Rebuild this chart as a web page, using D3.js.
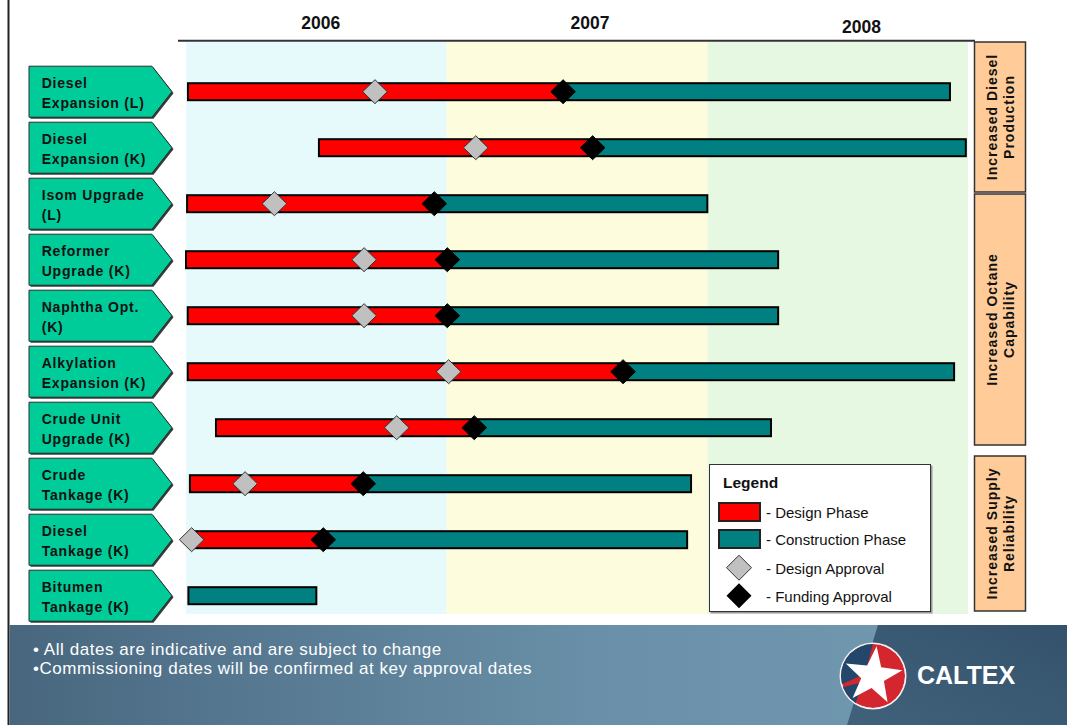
<!DOCTYPE html>
<html>
<head>
<meta charset="utf-8">
<script src="https://cdn.jsdelivr.net/npm/d3@7/dist/d3.min.js"></script>
<style>
  html, body { margin: 0; padding: 0; background: #ffffff; }
  svg { display: block; font-family: "Liberation Sans", Arial, sans-serif; }
</style>
</head>
<body>
<svg id="chart" width="1067" height="725"></svg>
<script>
// ---- Project schedule (months counted from January 2006) ----
const projects = [
  ["Diesel", "Expansion (L)"],
  ["Diesel", "Expansion (K)"],
  ["Isom Upgrade", "(L)"],
  ["Reformer", "Upgrade (K)"],
  ["Naphtha Opt.", "(K)"],
  ["Alkylation", "Expansion (K)"],
  ["Crude Unit", "Upgrade (K)"],
  ["Crude", "Tankage (K)"],
  ["Diesel", "Tankage (K)"],
  ["Bitumen", "Tankage (K)"]
];
const projectStart    = [0.09, 6.12, 0.05, 0.0, 0.08, 0.08, 1.38, 0.18, 0.23, 0.11];
const designApproval  = [8.70, 13.34, 4.07, 8.20, 8.20, 12.09, 9.70, 2.72, 0.26, null];
const fundingApproval = [17.36, 18.72, 11.43, 12.03, 12.03, 20.12, 13.27, 8.16, 6.32, null];
const projectEnd      = [35.17, 35.90, 24.00, 27.26, 27.26, 35.36, 26.93, 23.25, 23.07, 6.00];

// ---- Time axis ----
const years        = ["2006", "2007", "2008"];
const yearStart    = [0, 12, 24];
const yearEnd      = [12, 24, 36];
const yearLabelAt  = [6.2, 18.6, 31.1];

// ---- Objective groups on the right ----
const groupLabels = [
  ["Increased Diesel", "Production"],
  ["Increased Octane", "Capability"],
  ["Increased Supply", "Reliability"]
];

// ---- Legend ----
const legendLabels = ["- Design Phase", "- Construction Phase", "- Design Approval", "- Funding Approval"];

// ---- Footer notes ----
const notes = [
  "\u2022  All dates are indicative and are subject to change",
  "\u2022Commissioning dates will be confirmed at key approval dates"
];

const RED = "#ff0000", TEAL = "#008080", GREEN_TAG = "#00cc99", PEACH = "#ffcc99";
const yearFill = ["#e6fafb", "#fdfcdc", "#e7f8e2"];

const svg = d3.select("#chart");
const defs = svg.append("defs");

const x = d3.scaleLinear().domain([0, 36]).range([186, 968]);
const y = d3.scaleBand().domain(d3.range(projects.length)).range([63.7, 623.7]).padding(0);
const cy = i => y(i) + y.bandwidth() / 2;

// Year background bands
svg.append("g").selectAll("rect")
  .data(years)
  .join("rect")
  .attr("x", (d, i) => x(yearStart[i]))
  .attr("width", (d, i) => x(yearEnd[i]) - x(yearStart[i]))
  .attr("y", 42)
  .attr("height", 572)
  .attr("fill", (d, i) => yearFill[i]);

// Top timeline rule and year labels
svg.append("line")
  .attr("x1", 178).attr("x2", 975).attr("y1", 40.7).attr("y2", 40.7)
  .attr("stroke", "#333").attr("stroke-width", 2);

svg.append("g").selectAll("text")
  .data(years)
  .join("text")
  .attr("x", (d, i) => x(yearLabelAt[i]))
  .attr("y", (d, i) => i === 2 ? 33 : 29)
  .attr("text-anchor", "middle")
  .attr("font-size", 17.5)
  .attr("font-weight", "bold")
  .attr("fill", "#111")
  .text(d => d);

// Slide left edge
svg.append("line")
  .attr("x1", 8.5).attr("x2", 8.5).attr("y1", 0).attr("y2", 725)
  .attr("stroke", "#222").attr("stroke-width", 2);

// Project tags (chevrons)
const tagW = 123, tagTip = 20, tagH = 51;
const tags = svg.append("g").selectAll("g")
  .data(projects)
  .join("g")
  .attr("transform", (d, i) => `translate(29,${cy(i)})`);

tags.append("path")
  .attr("d", `M1.5,${-tagH / 2 + 1.5}H${tagW + 1.5}L${tagW + tagTip + 1.5},1.5L${tagW + 1.5},${tagH / 2 + 1.5}H1.5Z`)
  .attr("fill", "#3a3a3a");
tags.append("path")
  .attr("d", `M0,${-tagH / 2}H${tagW}L${tagW + tagTip},0L${tagW},${tagH / 2}H0Z`)
  .attr("fill", GREEN_TAG)
  .attr("stroke", "#2a2a2a")
  .attr("stroke-width", 1);

tags.append("text")
  .attr("font-size", 14)
  .attr("font-weight", "bold")
  .attr("letter-spacing", 0.8)
  .attr("fill", "#111")
  .selectAll("tspan")
  .data(d => d)
  .join("tspan")
  .attr("x", 12.7)
  .attr("y", (d, j) => j === 0 ? -4 : 16)
  .text(d => d);

// Phase bars
const barH = 17;
const bars = svg.append("g");
projects.forEach((p, i) => {
  const s = projectStart[i], f = fundingApproval[i], e = projectEnd[i];
  const top = cy(i) - barH / 2;
  if (f !== null) {
    bars.append("rect")
      .attr("x", x(s)).attr("y", top)
      .attr("width", x(f) - x(s)).attr("height", barH)
      .attr("fill", RED);
  }
  const cs = f !== null ? f : s;
  bars.append("rect")
    .attr("x", x(cs)).attr("y", top)
    .attr("width", x(e) - x(cs)).attr("height", barH)
    .attr("fill", TEAL);
  bars.append("rect")
    .attr("x", x(s)).attr("y", top)
    .attr("width", x(e) - x(s)).attr("height", barH)
    .attr("fill", "none")
    .attr("stroke", "#000")
    .attr("stroke-width", 2);
});

// Approval milestones
const diamond = (w, h) => `M0,${-h}L${w},0L0,${h}L${-w},0Z`;
const milestones = svg.append("g");
milestones.selectAll("path.design")
  .data(designApproval.map((v, i) => ({ v, i })).filter(d => d.v !== null))
  .join("path")
  .attr("class", "design")
  .attr("d", diamond(12.3, 12))
  .attr("transform", d => `translate(${x(d.v)},${cy(d.i)})`)
  .attr("fill", "#c0c0c0")
  .attr("stroke", "#333")
  .attr("stroke-width", 1);
milestones.selectAll("path.funding")
  .data(fundingApproval.map((v, i) => ({ v, i })).filter(d => d.v !== null))
  .join("path")
  .attr("class", "funding")
  .attr("d", diamond(12.3, 12))
  .attr("transform", d => `translate(${x(d.v)},${cy(d.i)})`)
  .attr("fill", "#000")
  .attr("stroke", "#000")
  .attr("stroke-width", 1);

// Objective group boxes
const groupBox = [[42, 192], [194, 445], [456, 611]];
const groups = svg.append("g").selectAll("g")
  .data(groupLabels)
  .join("g");
groups.append("rect")
  .attr("x", 974.5).attr("width", 51)
  .attr("y", (d, i) => groupBox[i][0])
  .attr("height", (d, i) => groupBox[i][1] - groupBox[i][0])
  .attr("fill", PEACH)
  .attr("stroke", "#333")
  .attr("stroke-width", 1.5);
groups.append("text")
  .attr("transform", (d, i) => `translate(1000,${(groupBox[i][0] + groupBox[i][1]) / 2}) rotate(-90)`)
  .attr("text-anchor", "middle")
  .attr("font-size", 14)
  .attr("font-weight", "bold")
  .attr("letter-spacing", 1)
  .attr("fill", "#111")
  .selectAll("tspan")
  .data(d => d)
  .join("tspan")
  .attr("x", 0)
  .attr("y", (d, j) => j === 0 ? -3 : 13.5)
  .text(d => d);

// Legend
const lg = svg.append("g");
lg.append("rect")
  .attr("x", 710.5).attr("y", 465.5).attr("width", 222).attr("height", 148)
  .attr("fill", "#9a9a9a");
lg.append("rect")
  .attr("x", 709.5).attr("y", 464.5).attr("width", 221).attr("height", 147)
  .attr("fill", "#ffffff")
  .attr("stroke", "#333")
  .attr("stroke-width", 1);
lg.append("text")
  .attr("x", 723).attr("y", 488)
  .attr("font-size", 15.5).attr("font-weight", "bold").attr("fill", "#111")
  .text("Legend");
const legendY = [512, 539, 567.7, 595.7];
lg.append("rect").attr("x", 719).attr("y", 503).attr("width", 41).attr("height", 18)
  .attr("fill", RED).attr("stroke", "#222").attr("stroke-width", 2);
lg.append("rect").attr("x", 719).attr("y", 530).attr("width", 41).attr("height", 18)
  .attr("fill", TEAL).attr("stroke", "#222").attr("stroke-width", 2);
lg.append("path").attr("d", diamond(12.5, 12.5))
  .attr("transform", `translate(739,${legendY[2]})`)
  .attr("fill", "#c0c0c0").attr("stroke", "#333").attr("stroke-width", 1);
lg.append("path").attr("d", diamond(12.5, 12.5))
  .attr("transform", `translate(739,${legendY[3]})`)
  .attr("fill", "#000");
lg.selectAll("text.item")
  .data(legendLabels)
  .join("text")
  .attr("class", "item")
  .attr("x", 766)
  .attr("y", (d, i) => legendY[i] + 6)
  .attr("font-size", 15)
  .attr("fill", "#111")
  .text(d => d);

// Footer band
const fg = defs.append("linearGradient").attr("id", "footerGrad")
  .attr("x1", "0").attr("x2", "1").attr("y1", "0").attr("y2", "0");
fg.append("stop").attr("offset", "0%").attr("stop-color", "#48677f");
fg.append("stop").attr("offset", "55%").attr("stop-color", "#6990a8");
fg.append("stop").attr("offset", "100%").attr("stop-color", "#739bb2");
const fd = defs.append("linearGradient").attr("id", "footerDark")
  .attr("x1", "0").attr("x2", "1").attr("y1", "1").attr("y2", "0");
fd.append("stop").attr("offset", "0%").attr("stop-color", "#41617b");
fd.append("stop").attr("offset", "100%").attr("stop-color", "#34526b");

svg.append("rect")
  .attr("x", 9.5).attr("y", 625).attr("width", 1057.5).attr("height", 100)
  .attr("fill", "url(#footerGrad)");
svg.append("path")
  .attr("d", "M878,625H1067V725H847Z")
  .attr("fill", "url(#footerDark)");

svg.append("g").selectAll("text")
  .data(notes)
  .join("text")
  .attr("x", 33)
  .attr("y", (d, i) => i === 0 ? 655 : 674)
  .attr("font-size", 17)
  .attr("letter-spacing", 0.55)
  .attr("fill", "#ffffff")
  .text(d => d);

// Brand mark
const logo = svg.append("g").attr("transform", "translate(873,676)");
defs.append("clipPath").attr("id", "logoClip")
  .append("circle").attr("r", 32);
logo.append("circle").attr("r", 33.5).attr("fill", "#f2f2f2");
const inner = logo.append("g").attr("clip-path", "url(#logoClip)");
inner.append("circle").attr("r", 32).attr("fill", "#d3262f");
inner.append("path").attr("d", "M-40,-40H2L-8,-2L-40,12Z").attr("fill", "#23466b");
inner.append("path").attr("d", "M-40,14L-10,6L-22,40H-40Z").attr("fill", "#23466b");
const starPts = d3.range(10).map(k => {
  const a = -Math.PI / 2 + k * Math.PI / 5 + 0.12;
  const r = k % 2 === 0 ? 30 : 12;
  return [r * Math.cos(a), r * Math.sin(a)];
});
inner.append("path")
  .attr("d", "M" + starPts.map(p => p.join(",")).join("L") + "Z")
  .attr("fill", "#ffffff");

svg.append("text")
  .attr("x", 917).attr("y", 684)
  .attr("font-size", 25)
  .attr("font-weight", "bold")
  .attr("fill", "#ffffff")
  .text("CALTEX");
</script>
</body>
</html>
